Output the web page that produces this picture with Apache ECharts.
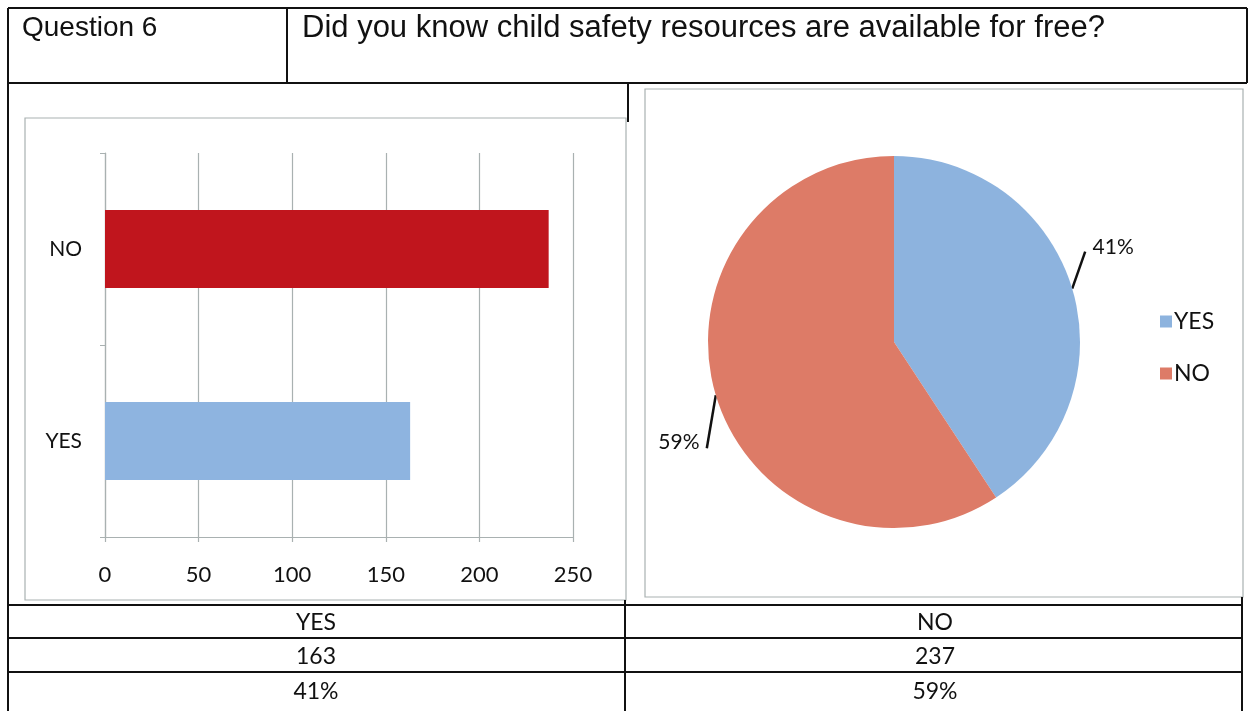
<!DOCTYPE html>
<html>
<head>
<meta charset="utf-8">
<script src="https://cdn.jsdelivr.net/npm/echarts@6/dist/echarts.min.js"></script>
<style>
html,body{margin:0;padding:0;background:#fff;}
#c{width:1251px;height:711px;}
</style>
</head>
<body>
<div id="c"></div>
<script>
var questionLabel = 'Question 6';
var questionText = 'Did you know child safety resources are available for free?';
var categories = ['YES', 'NO'];
var counts = [163, 237];
var barColors = ['#8eb4e0', '#c0151d'];
var pieColors = ['#8db3de', '#dd7b67'];
var xTicks = [0, 50, 100, 150, 200, 250];

var total = counts.reduce(function(a,b){return a+b;},0);
var pcts = counts.map(function(v){return Math.round(v/total*100) + '%';});

var chart = echarts.init(document.getElementById('c'), null, {renderer:'canvas'});
var black = '#111';
var gray = '#a9b1b1';
var fontC = 'Lato, "Open Sans", sans-serif';
var fontA = '"Liberation Sans", Arial, sans-serif';

function line(x1,y1,x2,y2,color,w){
  return {type:'line', shape:{x1:x1,y1:y1,x2:x2,y2:y2}, style:{stroke:color, lineWidth:w}, silent:true};
}
function txt(x,y,s,size,font,align,weight){
  return {type:'text', x:x, y:y, style:{text:s, fontSize:size, fontFamily:font, fill:black, align:align||'left', verticalAlign:'middle', fontWeight:weight||'normal'}, silent:true};
}

var graphics = [
  // header row
  line(8,8,1247,8,black,2),
  line(8,83,1247,83,black,2),
  line(8,8,8,711,black,2),
  line(1247,8,1247,83,black,2),
  line(287,8,287,83,black,2),
  line(628,83,628,122,black,2),
  txt(22,28,questionLabel,28,fontA),
  txt(302,28,questionText,31,fontA),
  // chart frames
  {type:'rect', shape:{x:25,y:118,width:601,height:482}, style:{fill:'none', stroke:gray, lineWidth:1.2}, silent:true},
  {type:'rect', shape:{x:645,y:89,width:598,height:508}, style:{fill:'none', stroke:gray, lineWidth:1.2}, silent:true},
  // bottom table
  line(8,605,1243,605,black,2),
  line(8,638,1243,638,black,2),
  line(8,672,1243,672,black,2),
  line(625,600,625,711,black,2),
  line(1242,597,1242,711,black,2),
  txt(316,623,categories[0],23,fontC,'center'),
  txt(935,623,categories[1],23,fontC,'center'),
  txt(316,657,String(counts[0]),23,fontC,'center'),
  txt(935,657,String(counts[1]),23,fontC,'center'),
  txt(316,692,pcts[0],23,fontC,'center'),
  txt(935,692,pcts[1],23,fontC,'center')
];

var option = {
  animation:false,
  backgroundColor:'#fff',
  graphic: graphics,
  grid:{left:105, top:153, width:468, height:384, containLabel:false},
  xAxis:{
    type:'value', min:xTicks[0], max:xTicks[xTicks.length-1], interval:xTicks[1]-xTicks[0],
    axisLine:{show:true, lineStyle:{color:gray, width:1.2}},
    axisTick:{show:true, length:5, lineStyle:{color:gray, width:1.2}},
    splitLine:{show:true, lineStyle:{color:gray, width:1.2}},
    axisLabel:{color:black, fontSize:22, fontFamily:fontC, margin:27}
  },
  yAxis:{
    type:'category', data:categories,
    axisLine:{show:true, lineStyle:{color:gray, width:1.2}},
    axisTick:{show:true, length:5, lineStyle:{color:gray}},
    axisLabel:{color:black, fontSize:21, fontFamily:fontC, margin:23}
  },
  legend:{
    orient:'vertical', left:1155, top:305, itemWidth:12, itemHeight:12, itemGap:29,
    icon:'rect',
    data:categories,
    textStyle:{color:black, fontSize:23, lineHeight:23, fontFamily:fontC, padding:[0,0,0,-3]}
  },
  series:[
    {
      type:'bar', barWidth:78,
      data: counts.map(function(v,i){return {value:v, itemStyle:{color:barColors[i]}};}),
      silent:true
    },
    {
      type:'pie', center:[894,342], radius:186, startAngle:90, clockwise:true,
      percentPrecision:0,
      data: categories.map(function(c,i){return {name:c, value:counts[i], itemStyle:{color:pieColors[i]}};}),
      label:{show:true, position:'outside', formatter:'{d}%', color:black, fontSize:21, fontFamily:fontC},
      labelLine:{show:true, length:40, length2:0, lineStyle:{color:black, width:2.5}},
      labelLayout:function(p){
        var p0 = p.labelLinePoints ? p.labelLinePoints[0] : null;
        if (p.dataIndex === 0) {
          return p0 ? {dx:-23, dy:-30, labelLinePoints:[p0, [p0[0]+13, p0[1]-37]]} : {dx:-23, dy:-30};
        }
        return p0 ? {dx:27, dy:35, labelLinePoints:[p0, [p0[0]-9, p0[1]+53]]} : {dx:27, dy:35};
      },
      silent:true
    }
  ]
};
chart.setOption(option);
</script>
</body>
</html>
